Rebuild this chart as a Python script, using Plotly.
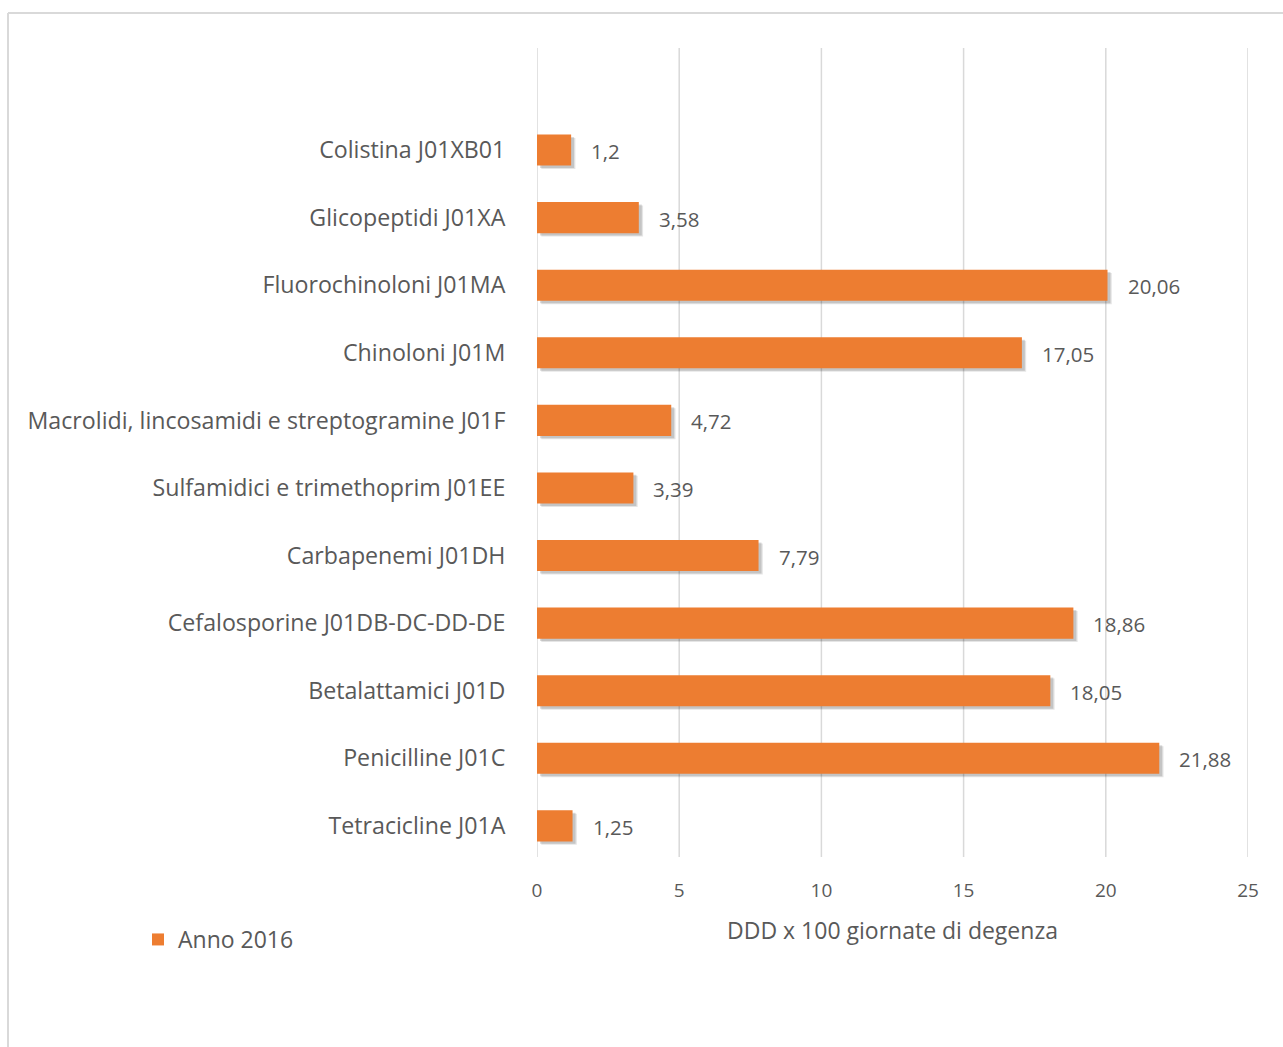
import plotly.graph_objects as go

categories = [
    "Colistina J01XB01",
    "Glicopeptidi J01XA",
    "Fluorochinoloni J01MA",
    "Chinoloni J01M",
    "Macrolidi, lincosamidi e streptogramine J01F",
    "Sulfamidici e trimethoprim J01EE",
    "Carbapenemi J01DH",
    "Cefalosporine J01DB-DC-DD-DE",
    "Betalattamici J01D",
    "Penicilline J01C",
    "Tetracicline J01A",
]
values = [1.2, 3.58, 20.06, 17.05, 4.72, 3.39, 7.79, 18.86, 18.05, 21.88, 1.25]
series_name = "Anno 2016"
x_ticks = [0, 5, 10, 15, 20, 25]
x_title = "DDD x 100 giornate di degenza"

# bottom-up order for the category axis
cats_bu = categories[::-1]
vals_bu = values[::-1]

FONT = "Open Sans"
GREY = "#595959"
ORANGE = "#ED7D31"
GRID = "#D9D9D9"
W = 0.46

fig = go.Figure()

# vertical gridlines (including the ones on the plot edges)
for t in x_ticks:
    fig.add_shape(type="line", xref="x", yref="paper", x0=t, x1=t, y0=0, y1=1,
                  line=dict(color=GRID, width=1.5), layer="below")

# soft shadow layers
for k, a in [(0.05, 0.10), (0.035, 0.14)]:
    fig.add_trace(go.Bar(
        y=cats_bu, x=vals_bu, orientation="h",
        base=[k * 3] * len(vals_bu),
        width=W, offset=-W / 2 - k,
        marker=dict(color=f"rgba(0,0,0,{a})", line=dict(width=0)),
        showlegend=False, hoverinfo="skip",
    ))

fig.add_trace(go.Bar(
    y=cats_bu, x=vals_bu, orientation="h", name=series_name,
    width=W,
    marker=dict(color=ORANGE, line=dict(width=0)),
))

for c, v in zip(cats_bu, vals_bu):
    fig.add_annotation(
        x=v, y=c, xref="x", yref="y", text=f"{v:g}".replace(".", ","),
        showarrow=False, xanchor="left", xshift=18, yshift=-1,
        font=dict(family=FONT, size=20.5, color=GREY),
    )

# chart border (top and left visible)
top_y = 1 + (48 - 13) / 809
left_x = (8 - 537) / 711
fig.add_shape(type="line", xref="paper", yref="paper",
              x0=left_x, x1=(1290 - 537) / 711, y0=top_y, y1=top_y,
              line=dict(color=GRID, width=2))
fig.add_shape(type="line", xref="paper", yref="paper",
              x0=left_x, x1=left_x, y0=top_y, y1=-(1060 - 857) / 809,
              line=dict(color=GRID, width=2))

fig.update_layout(
    width=1283, height=1047,
    margin=dict(l=537, r=35, t=48, b=190),
    paper_bgcolor="white", plot_bgcolor="white",
    separators=",.",
    barmode="overlay",
    font=dict(family=FONT, size=20, color=GREY),
    showlegend=True,
    legend=dict(x=(138 - 537) / 711, y=-(918 - 857) / 809, xanchor="left", yanchor="top",
                font=dict(family=FONT, size=23, color=GREY),
                itemwidth=30, bgcolor="rgba(0,0,0,0)"),
    xaxis=dict(range=[0, 25], tickvals=x_ticks, showgrid=False,
               zeroline=False, showline=False,
               ticks="outside", ticklen=16, tickcolor="rgba(0,0,0,0)",
               tickfont=dict(family=FONT, size=19, color=GREY),
               title=dict(text=x_title, standoff=21,
                          font=dict(family=FONT, size=23, color=GREY))),
    yaxis=dict(type="category", categoryorder="array", categoryarray=cats_bu,
               range=[-0.46, 11.51], showgrid=False, zeroline=False, showline=False,
               ticks="outside", ticklen=26, tickcolor="rgba(0,0,0,0)",
               tickfont=dict(family=FONT, size=23.2, color=GREY)),
)

fig.write_html("out.html")
